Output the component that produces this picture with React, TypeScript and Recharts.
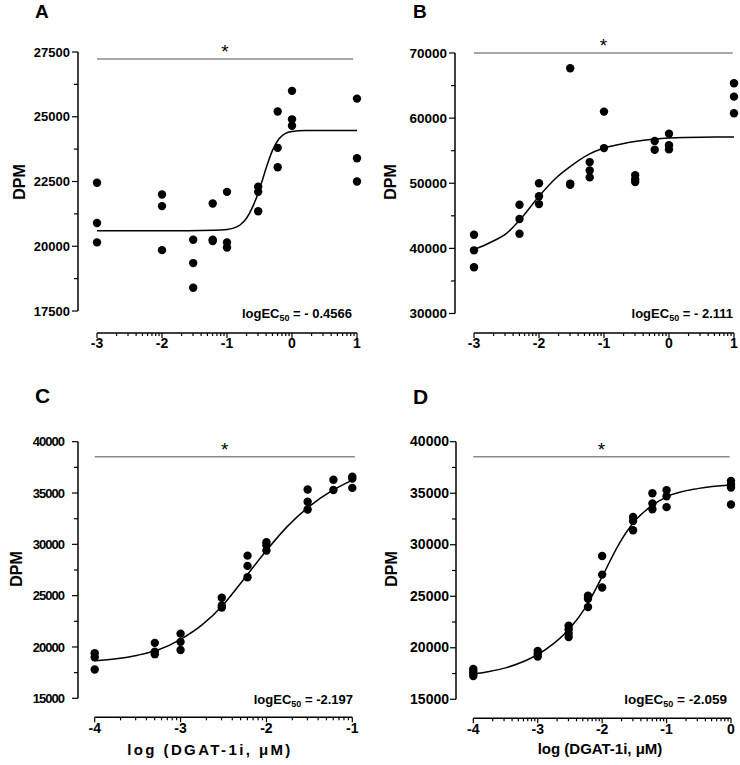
import { ComposedChart, Scatter, Line, XAxis, YAxis, ReferenceLine } from 'recharts';

const FONT = '"Liberation Sans", Arial, Helvetica, sans-serif';
const X_AXIS_H = 40;

// ---------- panel A ----------
const doseA = [-3, -2, -1.52, -1.22, -1, -0.52, -0.22, 0, 1];
const dpmA = [
    [22450, 20900, 20150],
    [22000, 21550, 19850],
    [20250, 19350, 18400],
    [21650, 20250, 20200],
    [22100, 20150, 19950],
    [22300, 22100, 21350],
    [25200, 23800, 23050],
    [26000, 24900, 24650],
    [25700, 23400, 22500],
];
const fitXA = [-3, -2, -1.2, -1, -0.9, -0.8, -0.7, -0.6, -0.5, -0.45, -0.4, -0.3, -0.2, -0.1, 0, 0.2, 1];
const fitYA = [20600, 20600, 20620, 20650, 20700, 20820, 21080, 21550, 22200, 22600, 23000, 23700, 24150, 24360, 24430, 24465, 24470];
const yMajorA = [17500, 20000, 22500, 25000, 27500];
const yMinorA = [18750, 21250, 23750, 26250];

// ---------- panel B ----------
const doseB = [-3, -2.3, -2, -1.52, -1.22, -1, -0.52, -0.22, 0, 1];
const dpmB = [
    [42100, 39700, 37100],
    [46700, 44500, 42250],
    [50000, 48000, 46800],
    [67650, 49950, 49750],
    [53250, 51950, 50900],
    [61000, 55400],
    [51250, 50600, 50200],
    [56500, 55150],
    [57600, 55850, 55200],
    [65350, 63300, 60750],
];
const fitXB = [-3, -2.75, -2.5, -2.25, -2, -1.75, -1.5, -1.25, -1, -0.75, -0.5, -0.25, 0, 0.5, 1];
const fitYB = [39800, 40900, 42300, 44900, 48000, 50700, 52700, 54350, 55400, 56000, 56450, 56750, 56950, 57080, 57100];
const yMajorB = [30000, 40000, 50000, 60000, 70000];
const yMinorB = [35000, 45000, 55000, 65000];

// ---------- panel C ----------
const doseC = [-4, -3.3, -3, -2.52, -2.22, -2, -1.52, -1.22, -1];
const dpmC = [
    [19400, 19000, 17800],
    [20400, 19550, 19300],
    [21300, 20500, 19700],
    [24800, 24050, 23850],
    [28900, 27900, 26800],
    [30200, 29900, 29400],
    [35350, 34150, 33400],
    [36300, 35300],
    [36600, 36400, 35500],
];
const fitXC = [-4, -3.75, -3.5, -3.25, -3, -2.75, -2.5, -2.25, -2, -1.75, -1.5, -1.25, -1];
const fitYC = [18650, 18850, 19200, 19750, 20750, 22150, 24150, 26750, 29400, 31800, 33700, 35150, 36250];

// ---------- panel D ----------
const doseD = [-4, -3, -2.52, -2.22, -2, -1.52, -1.22, -1, 0];
const dpmD = [
    [17950, 17700, 17450, 17250],
    [19700, 19400, 19150],
    [22150, 21800, 21400, 21050],
    [25050, 24750, 23950],
    [28900, 27100, 25850],
    [32700, 32300, 31400],
    [35000, 34000, 33450],
    [35300, 34700, 33650],
    [36200, 35850, 35550, 33900],
];
const fitXD = [-4, -3.75, -3.5, -3.25, -3, -2.75, -2.5, -2.25, -2, -1.75, -1.5, -1.25, -1, -0.5, 0];
const fitYD = [17450, 17700, 18050, 18600, 19350, 20430, 21900, 24000, 26900, 29950, 32250, 33700, 34650, 35470, 35800];

const yMajorCD = [15000, 20000, 25000, 30000, 35000, 40000];
const yMinorCD = [17500, 22500, 27500, 32500, 37500];

const xTitle = 'log (DGAT-1i, \u03bcM)';

// log-scale minor ticks between decades
const minorSteps = [2, 3, 4, 5, 6, 7, 8, 9];
function logTicks(from: number, to: number) {
    const out: number[] = [];
    for (let d = from; d <= to; d++) {
        out.push(d);
        if (d < to) minorSteps.forEach(k => out.push(d + Math.log10(k)));
    }
    return out;
}

function toPoints(dose: number[], dpm: number[][]) {
    return dose.flatMap((x, i) => dpm[i].map(y => ({ x, y })));
}

function toCurve(xs: number[], ys: number[]) {
    return xs.map((x, i) => ({ x, y: ys[i] }));
}

type PanelCfg = {
    id: string;
    left: number; top: number; h: number;
    yAxisPx: number; plotRightPx: number;
    xFirst: number; xLast: number; xFirstPx: number; xLastPx: number;
    yTop: number; yBot: number; yTopPx: number; yBotPx: number;
    xAxisPx: number;
    yMajor: number[]; yMinor: number[];
    points: { x: number; y: number }[];
    curve: { x: number; y: number }[];
    sig: { x1: number; x2: number; y: number };
    yFont: number; yLS: number; yGap: number;
    xLabelDy: number;
    dpm: { x: number; y: number };
    title?: { x: number; y: number; ls: number };
    letter: { x: number; y: number; size: number };
    ec: { x: number; y: number; value: string; size: number };
};

const panels: PanelCfg[] = [
    {
        id: 'A', left: 0, top: 0, h: 380, yAxisPx: 78, plotRightPx: 362,
        xFirst: -3, xLast: 1, xFirstPx: 97, xLastPx: 357,
        yTop: 27500, yBot: 17500, yTopPx: 52, yBotPx: 311, xAxisPx: 333,
        yMajor: yMajorA, yMinor: yMinorA,
        points: toPoints(doseA, dpmA), curve: toCurve(fitXA, fitYA),
        sig: { x1: -3, x2: 0.94, y: 27230 },
        yFont: 13, yLS: 0, yGap: 8, xLabelDy: 15,
        dpm: { x: 25, y: 182 },
        letter: { x: 35, y: 18, size: 19 },
        ec: { x: 352, y: 318, value: ' = - 0.4566', size: 13 },
    },
    {
        id: 'B', left: 370, top: 0, h: 380, yAxisPx: 455, plotRightPx: 739,
        xFirst: -3, xLast: 1, xFirstPx: 474, xLastPx: 734,
        yTop: 70000, yBot: 30000, yTopPx: 53, yBotPx: 313.5, xAxisPx: 333,
        yMajor: yMajorB, yMinor: yMinorB,
        points: toPoints(doseB, dpmB), curve: toCurve(fitXB, fitYB),
        sig: { x1: -3, x2: 0.98, y: 70000 },
        yFont: 13.5, yLS: 0, yGap: 8, xLabelDy: 15,
        dpm: { x: 396, y: 182 },
        letter: { x: 413, y: 18, size: 19 },
        ec: { x: 733, y: 318, value: ' = - 2.111', size: 13 },
    },
    {
        id: 'C', left: 0, top: 380, h: 385, yAxisPx: 78, plotRightPx: 357,
        xFirst: -4, xLast: -1, xFirstPx: 94.7, xLastPx: 352.3,
        yTop: 40000, yBot: 15000, yTopPx: 441.7, yBotPx: 698.3, xAxisPx: 717.3,
        yMajor: yMajorCD, yMinor: yMinorCD,
        points: toPoints(doseC, dpmC), curve: toCurve(fitXC, fitYC),
        sig: { x1: -4, x2: -0.97, y: 38540 },
        yFont: 13, yLS: -1, yGap: 14, xLabelDy: 16,
        dpm: { x: 22, y: 569 },
        title: { x: 210, y: 755, ls: 2.4 },
        letter: { x: 35, y: 403, size: 21 },
        ec: { x: 353, y: 704, value: ' = -2.197', size: 13 },
    },
    {
        id: 'D', left: 370, top: 380, h: 385, yAxisPx: 456, plotRightPx: 736,
        xFirst: -4, xLast: 0, xFirstPx: 473.3, xLastPx: 731,
        yTop: 40000, yBot: 15000, yTopPx: 441.7, yBotPx: 699.3, xAxisPx: 718.3,
        yMajor: yMajorCD, yMinor: yMinorCD,
        points: toPoints(doseD, dpmD), curve: toCurve(fitXD, fitYD),
        sig: { x1: -4, x2: -0.02, y: 38550 },
        yFont: 14, yLS: 0, yGap: 7, xLabelDy: 16,
        dpm: { x: 397, y: 569 },
        title: { x: 600, y: 754, ls: 0 },
        letter: { x: 413, y: 404, size: 21 },
        ec: { x: 727, y: 704, value: ' = -2.059', size: 13.5 },
    },
];

const isWhole = (v: number) => Math.abs(v - Math.round(v)) < 1e-6;

function Panel({ p }: { p: PanelCfg }) {
    const w = 370;
    const xPerPx = (p.xLast - p.xFirst) / (p.xLastPx - p.xFirstPx);
    const xMin = p.xFirst - (p.xFirstPx - p.yAxisPx) * xPerPx;
    const xMax = p.xLast + (p.plotRightPx - p.xLastPx) * xPerPx;
    const yPerPx = (p.yTop - p.yBot) / (p.yBotPx - p.yTopPx);
    const yMin = p.yBot - (p.xAxisPx - p.yBotPx) * yPerPx;
    const yMax = p.yTop;
    const margin = {
        top: p.yTopPx - p.top,
        left: 0,
        right: p.left + w - p.plotRightPx,
        bottom: p.top + p.h - p.xAxisPx - X_AXIS_H,
    };
    const yTicks = [...p.yMajor, ...p.yMinor].sort((a, b) => a - b);
    const majorSet = new Set(p.yMajor);

    const xTick = (props: any) => {
        const { x, y, payload } = props;
        const major = isWhole(payload.value);
        return (
            <g>
                <line x1={x} x2={x} y1={y} y2={y + (major ? 5 : 3)} stroke="#000" strokeWidth={1.2} />
                {major && (
                    <text x={x} y={y + p.xLabelDy} textAnchor="middle" fontSize={14} fontWeight="bold"
                        fontFamily={FONT} fill="#000">
                        {String(Math.round(payload.value))}
                    </text>
                )}
            </g>
        );
    };

    const yTick = (props: any) => {
        const { x, y, payload } = props;
        const major = majorSet.has(payload.value);
        return (
            <g>
                <line x1={x - (major ? 6 : 4)} x2={x} y1={y} y2={y} stroke="#000" strokeWidth={1.2} />
                {major && (
                    <text x={x - p.yGap} y={y + 4.7} textAnchor="end" fontSize={p.yFont} fontWeight="bold"
                        letterSpacing={p.yLS} fontFamily={FONT} fill="#000">
                        {payload.value}
                    </text>
                )}
            </g>
        );
    };

    const dpmLabel = () => {
        const x = p.dpm.x - p.left;
        const y = p.dpm.y - p.top;
        return (
            <text x={x} y={y} transform={`rotate(-90, ${x}, ${y})`} textAnchor="middle" fontSize={16}
                fontWeight="bold" fontFamily={FONT} fill="#000">DPM</text>
        );
    };

    const titleLabel = () => p.title ? (
        <text x={p.title.x - p.left} y={p.title.y - p.top} textAnchor="middle" fontSize={15} fontWeight="bold"
            letterSpacing={p.title.ls} fontFamily={FONT} fill="#000">{xTitle}</text>
    ) : null;

    const starLabel = (props: any) => {
        const vb = props.viewBox || {};
        return (
            <text x={vb.x + (vb.width || 0) / 2} y={vb.y - 1} textAnchor="middle" fontSize={19}
                fontFamily={FONT} fill="#000">*</text>
        );
    };

    return (
        <div style={{ position: 'absolute', left: p.left, top: p.top, width: w, height: p.h }}>
            <ComposedChart width={w} height={p.h} margin={margin}>
                <XAxis type="number" dataKey="x" domain={[xMin, xMax]} allowDataOverflow
                    ticks={logTicks(p.xFirst, p.xLast)} interval={0} axisLine={false} tickLine={false}
                    tickSize={0} tickMargin={0} height={X_AXIS_H} tick={xTick} label={titleLabel} />
                <YAxis type="number" dataKey="y" domain={[yMin, yMax]} allowDataOverflow
                    ticks={yTicks} interval={0} axisLine={false} tickLine={false}
                    tickSize={0} tickMargin={0} width={p.yAxisPx - p.left} tick={yTick} label={dpmLabel} />
                <ReferenceLine segment={[{ x: xMin, y: p.yBot }, { x: xMin, y: p.yTop }]}
                    stroke="#000" strokeWidth={1.5} ifOverflow="visible" />
                <ReferenceLine segment={[{ x: p.xFirst, y: yMin }, { x: p.xLast, y: yMin }]}
                    stroke="#000" strokeWidth={1.5} ifOverflow="visible" />
                <ReferenceLine segment={[{ x: p.sig.x1, y: p.sig.y }, { x: p.sig.x2, y: p.sig.y }]}
                    stroke="#8a8a8a" strokeWidth={1.5} ifOverflow="visible" label={starLabel} />
                <Line data={p.curve} dataKey="y" type="monotone" stroke="#000" strokeWidth={1.5}
                    dot={false} activeDot={false} isAnimationActive={false} />
                <Scatter data={p.points} dataKey="y" fill="#000" isAnimationActive={false}
                    shape={(s: any) => <circle cx={s.cx} cy={s.cy} r={4.2} fill="#000" />} />
            </ComposedChart>
        </div>
    );
}

export default function App() {
    return (
        <div style={{ position: 'absolute', left: 0, top: 0, width: 740, height: 765, background: '#fff', fontFamily: FONT }}>
            {panels.map(p => <Panel key={p.id} p={p} />)}
            <svg width={740} height={765} style={{ position: 'absolute', left: 0, top: 0, pointerEvents: 'none' }}>
                {panels.map(p => (
                    <g key={p.id} fontFamily={FONT} fontWeight="bold" fill="#000">
                        <text x={p.letter.x} y={p.letter.y} fontSize={p.letter.size}>{p.id}</text>
                        <text x={p.ec.x} y={p.ec.y} fontSize={p.ec.size} textAnchor="end">
                            logEC<tspan fontSize={9} dy={3}>50</tspan><tspan dy={-3}>{p.ec.value}</tspan>
                        </text>
                    </g>
                ))}
            </svg>
        </div>
    );
}
